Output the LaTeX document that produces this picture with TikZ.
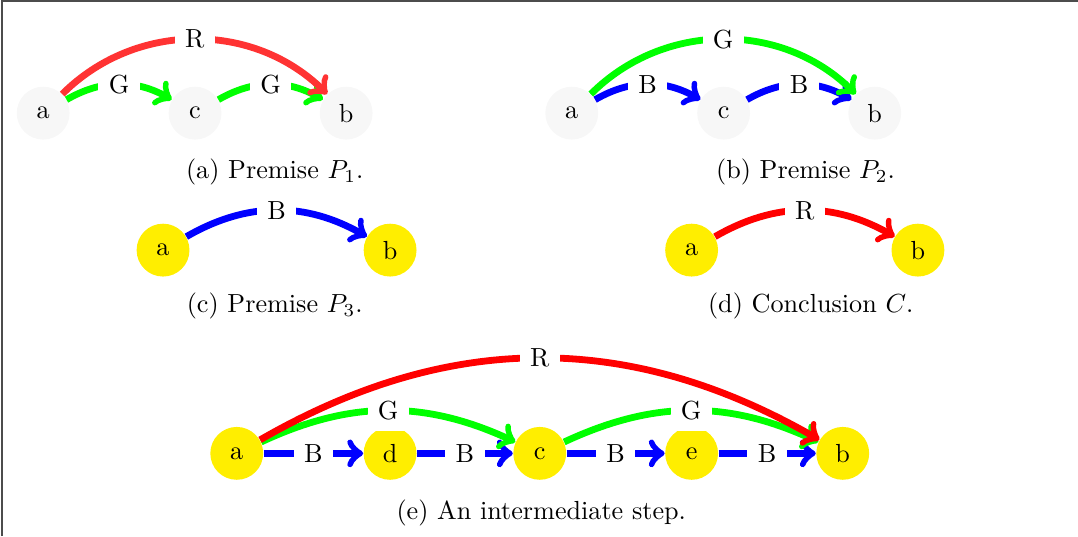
\documentclass[tikz,border=0pt]{standalone}
\usepackage{amsmath}
\usepackage{amssymb}
\usepackage{tikz}

\definecolor{nodeyellow}{RGB}{255,238,0}

\begin{document}
\begin{tikzpicture}[
    pale/.style={circle, fill=black!3, minimum size=0.71cm, inner sep=0pt},
    vertex/.style={circle, fill=nodeyellow, minimum size=0.71cm, inner sep=0pt},
    rel/.style={->, line width=2.6pt},
    lab/.style={fill=white, text=black, inner sep=4pt}
]
\useasboundingbox (0,0) rectangle (14.48,7.20);

    % frame
    \draw[black!70, line width=0.6pt] (0.027,0) -- (0.027,7.185) -- (14.48,7.185);

    % Premise P1
    \node[pale] (a1) at (0.58,5.68) {a};
    \node[pale] (c1) at (2.62,5.68) {c};
    \node[pale] (b1) at (4.65,5.68) {b};
    \draw[rel, green] (a1) to[bend left=30] node[lab] {G} (c1);
    \draw[rel, green] (c1) to[bend left=30] node[lab] {G} (b1);
    \draw[rel, red!80] (a1) to[bend left=45] node[lab] {R} (b1);
    \node (capa) at (3.69,4.89) {(a) Premise $P_1$.};

    % Premise P2
    \node[pale] (a2) at (7.68,5.68) {a};
    \node[pale] (c2) at (9.72,5.68) {c};
    \node[pale] (b2) at (11.75,5.68) {b};
    \draw[rel, blue] (a2) to[bend left=30] node[lab] {B} (c2);
    \draw[rel, blue] (c2) to[bend left=30] node[lab] {B} (b2);
    \draw[rel, green] (a2) to[bend left=45] node[lab] {G} (b2);
    \node (capb) at (10.82,4.89) {(b) Premise $P_2$.};

    % Premise P3
    \node[vertex] (a3) at (2.19,3.84) {a};
    \node[vertex] (b3) at (5.24,3.84) {b};
    \draw[rel, blue] (a3) to[bend left=30] node[lab] {B} (b3);
    \node (capc) at (3.69,3.09) {(c) Premise $P_3$.};

    % Conclusion C
    \node[vertex] (a4) at (9.29,3.84) {a};
    \node[vertex] (b4) at (12.33,3.84) {b};
    \draw[rel, red] (a4) to[bend left=30] node[lab] {R} (b4);
    \node (capd) at (10.89,3.09) {(d) Conclusion $C$.};

    % Intermediate step
    \node[vertex] (a5) at (3.18,1.11) {a};
    \node[vertex] (d5) at (5.24,1.11) {d};
    \node[vertex] (c5) at (7.25,1.11) {c};
    \node[vertex] (e5) at (9.29,1.11) {e};
    \node[vertex] (b5) at (11.32,1.11) {b};
    \draw[rel, blue] (a5) -- node[lab] {B} (d5);
    \draw[rel, blue] (d5) -- node[lab] {B} (c5);
    \draw[rel, blue] (c5) -- node[lab] {B} (e5);
    \draw[rel, blue] (e5) -- node[lab] {B} (b5);
    \draw[rel, green] (a5) to[bend left=25] node[lab] {G} (c5);
    \draw[rel, green] (c5) to[bend left=25] node[lab] {G} (b5);
    \draw[rel, red] (a5) to[bend left=30] node[lab] {R} (b5);
    \node (cape) at (7.27,0.31) {(e) An intermediate step.};

\end{tikzpicture}
\end{document}
